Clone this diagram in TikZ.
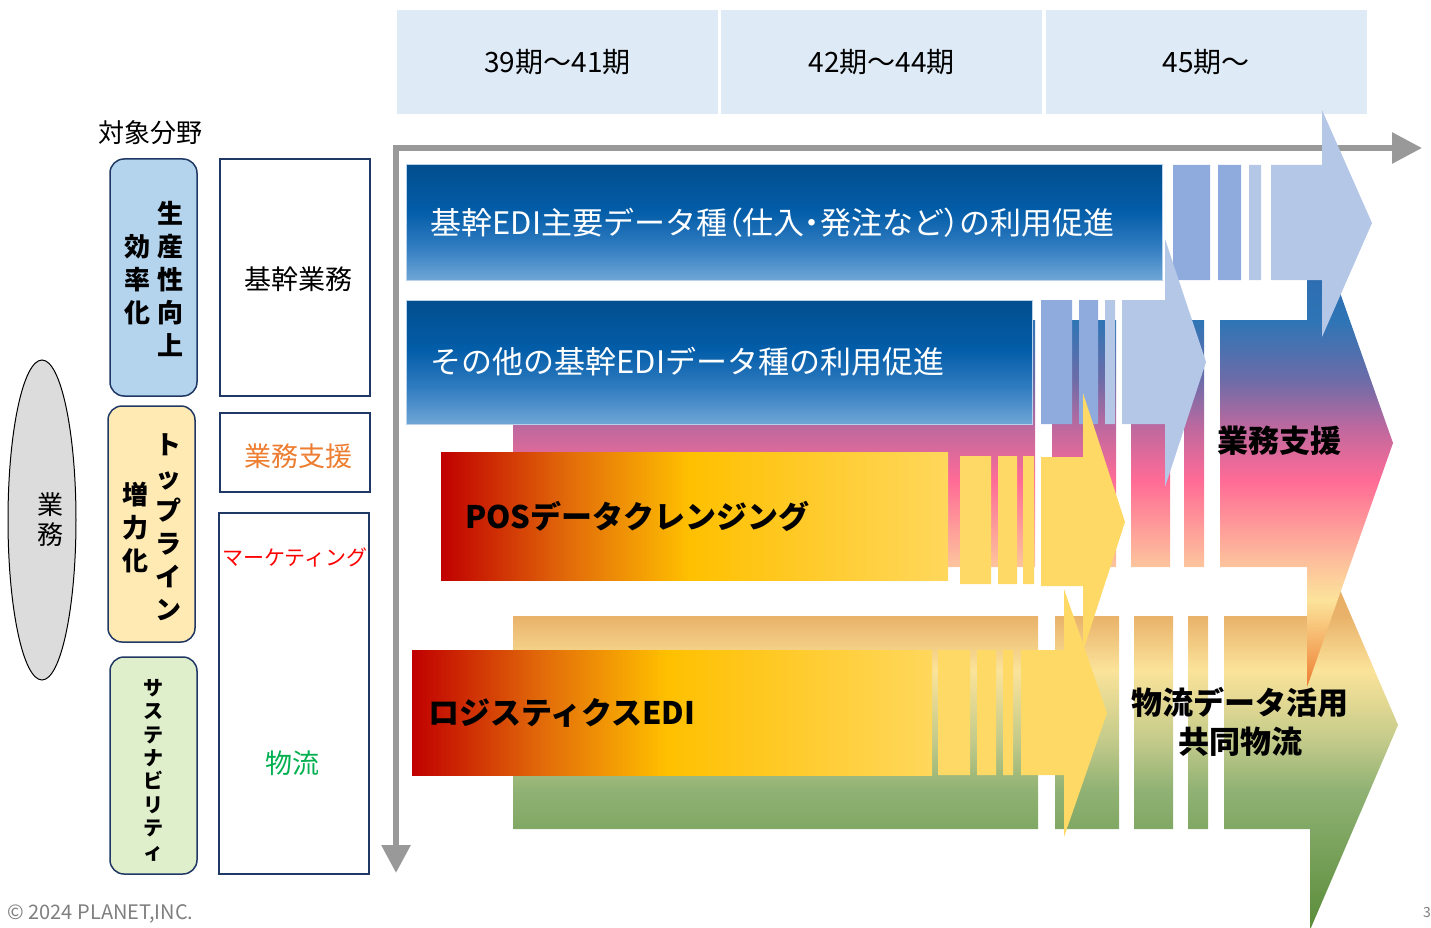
\documentclass[tikz,border=0pt]{standalone}
\usepackage{fontspec}
\setmainfont{Noto Sans CJK JP}
\newfontfamily\paltfont{Noto Sans CJK JP}[RawFeature=+palt]
\usetikzlibrary{arrows.meta,positioning,shapes.geometric}

\definecolor{navy}{HTML}{203864}
\definecolor{headbg}{HTML}{DEEBF7}
\definecolor{axisgray}{HTML}{999999}
\definecolor{footgray}{HTML}{7F7F7F}
\definecolor{goalblue}{HTML}{B4D4EE}
\definecolor{goalyellow}{HTML}{FFEAB3}
\definecolor{goalgreen}{HTML}{DFEFCB}
\definecolor{ellgray}{HTML}{DCDCDC}
\definecolor{supportorange}{HTML}{ED7D31}
\definecolor{logigreen}{HTML}{00B050}
\definecolor{stripblue}{HTML}{8FAADC}
\definecolor{paleblue}{HTML}{B4C7E7}
\definecolor{stripyellow}{HTML}{FFD966}
\definecolor{ediDark}{HTML}{024E8E}
\definecolor{ediBlue}{HTML}{035DA8}
\definecolor{ediMid}{HTML}{2F7BC0}
\definecolor{ediLight}{HTML}{6FA6D6}
\definecolor{posRed}{HTML}{C00000}
\definecolor{posOrange}{HTML}{E26B0A}
\definecolor{posGold}{HTML}{FFC000}
\definecolor{posLight}{HTML}{FFD75C}
\definecolor{supDark}{HTML}{2F5DA8}
\definecolor{supBlue}{HTML}{2E75B6}
\definecolor{supPurple}{HTML}{6C6CA8}
\definecolor{supMauve}{HTML}{C2699E}
\definecolor{supPink}{HTML}{FF6B96}
\definecolor{supPeach}{HTML}{FDC39C}
\definecolor{supYellow}{HTML}{FCE39A}
\definecolor{supOrange}{HTML}{ED7D31}
\definecolor{logTan}{HTML}{E6A258}
\definecolor{logTop}{HTML}{E9B26A}
\definecolor{logPale}{HTML}{FBE39A}
\definecolor{logOlive}{HTML}{C4CB8A}
\definecolor{logGreen}{HTML}{90B274}
\definecolor{logDark}{HTML}{5A8C3A}

\pgfdeclareverticalshading{edishade}{100bp}{color(0bp)=(ediLight); color(25bp)=(ediLight); color(40bp)=(ediMid); color(55bp)=(ediBlue); color(75bp)=(ediDark); color(100bp)=(ediDark)}
\pgfdeclarehorizontalshading{posshade}{100bp}{color(0bp)=(posRed); color(25bp)=(posRed); color(37.5bp)=(posOrange); color(49.5bp)=(posGold); color(75bp)=(posLight); color(100bp)=(posLight)}
\pgfdeclareverticalshading{supportshade}{100bp}{color(0bp)=(supOrange); color(25bp)=(supOrange); color(33.9bp)=(supYellow); color(37.5bp)=(supPeach); color(46.2bp)=(supPink); color(51.3bp)=(supMauve); color(56.5bp)=(supPurple); color(62.6bp)=(supBlue); color(75bp)=(supDark); color(100bp)=(supDark)}
\pgfdeclareverticalshading{logishade}{100bp}{color(0bp)=(logDark); color(25bp)=(logDark); color(42.1bp)=(logGreen); color(48.2bp)=(logOlive); color(56.7bp)=(logPale); color(63.3bp)=(logTop); color(75bp)=(logTan); color(100bp)=(logTan)}

\begin{document}
\begin{tikzpicture}[x=1pt,y=-1pt,
  headcell/.style={fill=headbg,minimum width=321pt,minimum height=104pt,inner sep=0pt,font=\fontsize{28}{32}\selectfont},
  areabox/.style={draw=navy,line width=1.5pt,inner sep=0pt,minimum width=150pt},
  areatext/.style={inner sep=0pt,font=\fontsize{27}{32}\selectfont},
  goalbox/.style={draw=navy,line width=1.5pt,rounded corners=14pt,minimum width=87pt,inner sep=0pt},
  goaltext/.style={align=center,inner sep=0pt,font=\fontsize{26}{33}\selectfont\bfseries},
  edibox/.style={shading=edishade,draw=ediLight!50!white,line width=1pt,anchor=west,align=left,text=white,inner xsep=24pt,font=\fontsize{31}{36}\selectfont},
  posbox/.style={shading=posshade,anchor=west,align=left,inner xsep=24pt,font=\fontsize{31}{36}\selectfont\bfseries},
  bandtag/.style={align=center,inner sep=0pt,font=\fontsize{31}{39}\selectfont\bfseries},
  timeaxis/.style={axisgray,line width=6pt,line join=miter}]
  \useasboundingbox (0,0) rectangle (1431,928);

  \node (period1) [headcell] at (557.5,62) {39期～41期};
  \node (period2) [headcell,right=3pt of period1] {42期～44期};
  \node (period3) [headcell,right=3pt of period2] {45期～};

  \coordinate (axisorigin) at (396,148);
  \coordinate (axisdown) at (396,873);
  \coordinate (axisright) at (1422,148);
  \draw[timeaxis,{Triangle[length=28pt,width=28pt]}-{Triangle[length=30pt,width=30pt]}] (axisdown) -- (axisorigin) -- (axisright);

  \shade[shading=logishade]
    (513,616) rectangle (1038,829) (1055,616) rectangle (1119,829)
    (1134,616) rectangle (1173,829) (1188,616) rectangle (1208,829)
    (1224,616) -- (1310,616) -- (1310,520) -- (1398,725) -- (1310,930) -- (1310,829) -- (1224,829) -- cycle;
  \shade[shading=supportshade]
    (513,320) rectangle (1035,567) (1052,320) rectangle (1116,567)
    (1131,320) rectangle (1170,567) (1184,320) rectangle (1204,567)
    (1220,320) -- (1307,320) -- (1307,199) -- (1393,443) -- (1307,687) -- (1307,567) -- (1220,567) -- cycle;

  \node (edimain) [edibox,text width=708pt,minimum height=115pt] at (406,222.5) {基幹EDI主要データ種{\paltfont （}仕入{\paltfont ・}発注など{\paltfont ）}の利用促進};
  \fill[stripblue] (1173,165) rectangle (1210,280) (1218,165) rectangle (1241,280);
  \fill[paleblue] (1249,165) rectangle (1261,280)
    (1271,165) -- (1322,165) -- (1322,110) -- (1372,223) -- (1322,337) -- (1322,280) -- (1271,280) -- cycle;

  \node (ediother) [edibox,text width=578pt,minimum height=124pt] at (406,362) {その他の基幹EDIデータ種の利用促進};
  \fill[stripblue] (1041,300) rectangle (1072,424) (1079,300) rectangle (1098,424);
  \fill[paleblue] (1105,300) rectangle (1115,424)
    (1122,300) -- (1165,300) -- (1165,239) -- (1206,362) -- (1165,487) -- (1165,424) -- (1122,424) -- cycle;

  \node (posclean) [posbox,text width=459pt,minimum height=128pt] at (441,516) {POSデータクレンジング};
  \fill[stripyellow] (960,456) rectangle (991,584) (998,456) rectangle (1017,584) (1023,456) rectangle (1034,584)
    (1041,457) -- (1083,457) -- (1083,393) -- (1125,522) -- (1083,651) -- (1083,586) -- (1041,586) -- cycle;

  \node (logiedi) [posbox,inner xsep=16pt,text width=488pt,minimum height=125pt] at (412,712.5) {ロジスティクスEDI};
  \fill[stripyellow] (938,650) rectangle (970,775) (977,650) rectangle (996,775) (1003,650) rectangle (1013,775)
    (1021,650) -- (1064,650) -- (1064,589) -- (1107,713) -- (1064,837) -- (1064,775) -- (1021,775) -- cycle;

  \node (supporttag) [bandtag] at (1279,441) {業務支援};
  \node (logitag) [bandtag] at (1240,722) {物流データ活用\\共同物流};

  \node (target) [font=\fontsize{26}{30}\selectfont] at (150,133) {対象分野};
  \node (gyomu) [ellipse,draw,line width=1pt,fill=ellgray,minimum width=68pt,minimum height=320pt,inner sep=0pt] at (42,520) {};
  \node (gyomutext) [align=center,inner sep=0pt,font=\fontsize{26}{30}\selectfont] at (50,520) {業\\務};

  \node (goalprod) [goalbox,fill=goalblue,minimum height=237pt] at (153.5,277.5) {};
  \node (goalprodR) [goaltext] at (170,279) {生\\産\\性\\向\\上};
  \node (goalprodL) [goaltext] at (137,279.5) {効\\率\\化};
  \node (goaltop) [goalbox,fill=goalyellow,minimum height=236pt] at (151.5,524) {};
  \node (goaltopR) [goaltext] at (168,527.5) {ト\\ッ\\プ\\ラ\\イ\\ン};
  \node (goaltopL) [goaltext] at (135,528) {増\\力\\化};
  \node (goalsus) [goalbox,fill=goalgreen,minimum height=217pt] at (153.5,765.5) {};
  \node (goalsusT) [goaltext,font=\fontsize{20}{23.4}\selectfont\bfseries] at (153,770) {サ\\ス\\テ\\ナ\\ビ\\リ\\テ\\ィ};

  \node (areacore) [areabox,minimum height=237pt] at (295,277.5) {};
  \node (areasupport) [areabox,minimum height=79pt] at (295,452.5) {};
  \node (arealogi) [areabox,minimum height=361pt] at (294,693.5) {};
  \node (coretext) [areatext] at (298,279) {基幹業務};
  \node (supporttext) [areatext,text=supportorange] at (298,456) {業務支援};
  \node (marketing) [text=red,font=\fontsize{21}{25}\selectfont] at (295,557) {マーケティング};
  \node (logistics) [areatext,text=logigreen] at (292,763) {物流};

  \node (copyright) [anchor=west,text=footgray,font=\fontsize{20}{22}\selectfont] at (4,914) {© 2024 PLANET,INC.};
  \node (pagenum) [text=footgray,font=\fontsize{14}{16}\selectfont] at (1427,912) {3};
\end{tikzpicture}
\end{document}
